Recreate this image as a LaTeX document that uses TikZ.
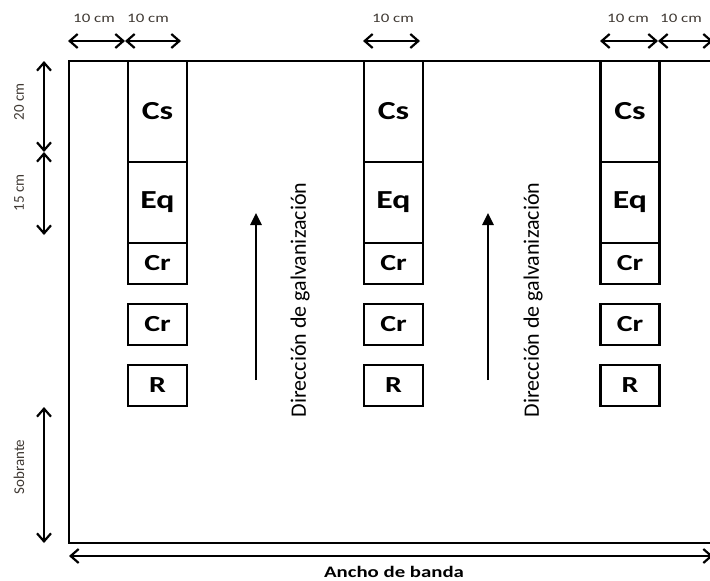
\documentclass[tikz,border=0pt]{standalone}
\usepackage{fontspec}
\setmainfont{Carlito}
\usetikzlibrary{arrows.meta}
\definecolor{dimtext}{RGB}{64,58,52}
% wide lettering for the horizontal labels
\newcommand\hstretch[1]{\scalebox{1.3}[1]{#1}}
\tikzset{
  frame/.style={line width=2.4pt},
  cell/.style={draw, line width=2.2pt, minimum width=59pt, inner sep=0pt},
  bigcell/.style={cell, font=\bfseries\fontsize{26}{26}\selectfont},
  smallcell/.style={cell, minimum height=41pt, font=\bfseries\fontsize{23}{23}\selectfont},
  dimarrow/.style={line width=2.2pt, {Straight Barb[length=8pt,width=14pt]}-{Straight Barb[length=8pt,width=14pt]}},
  dimlabel/.style={text=dimtext, font=\fontsize{13}{13}\selectfont, inner sep=0pt},
  sidelabel/.style={text=dimtext, rotate=90, font=\fontsize{15}{15}\selectfont, inner sep=0pt},
  flow/.style={line width=2.6pt, -{Triangle[length=12pt,width=11pt]}},
  flowlabel/.style={rotate=90, font=\fontsize{22}{22}\selectfont, inner sep=0pt},
}
\begin{document}
\begin{tikzpicture}[x=1pt,y=-1pt]
\useasboundingbox (0,0) rectangle (710,581);
\fill[white] (0,0) rectangle (710,581);

% strip outline (right side runs past the page)
\coordinate (tl) at (69,61);
\coordinate (tr) at (714,61);
\coordinate (bl) at (69,543);
\coordinate (br) at (714,543);
\draw[frame] (tr) -- (tl) -- (bl) -- (br);

% three sample columns
\foreach \i/\cx in {1/157.5, 2/393.5, 3/630}{
  \node[bigcell, minimum height=101pt] (cs\i) at (\cx,111.5) {\hstretch{Cs}};
  \node[bigcell, minimum height=81pt] (eq\i) at (\cx,202.5) {\hstretch{Eq}};
  \node[smallcell] (cra\i) at (\cx,263.5) {\hstretch{Cr}};
  \node[smallcell] (crb\i) at (\cx,324.5) {\hstretch{Cr}};
  \node[smallcell] (r\i) at (\cx,385.5) {\hstretch{R}};
}

% width dimensions along the top
\coordinate (d0) at (68,41);
\coordinate (d1) at (125,41);
\coordinate (d2) at (181,41);
\coordinate (d3) at (363,41);
\coordinate (d4) at (420,41);
\coordinate (d5) at (600,41);
\coordinate (d6) at (658,41);
\coordinate (d7) at (713,41);
\draw[dimarrow] (d0) -- (d1);
\draw[dimarrow] (d1) -- (d2);
\draw[dimarrow] (d3) -- (d4);
\draw[dimarrow] (d5) -- (d6);
\draw[dimarrow] (d6) -- (d7);
\node[dimlabel] (w1) at (94,18) {\hstretch{10 cm}};
\node[dimlabel] (w2) at (148,18) {\hstretch{10 cm}};
\node[dimlabel] (w3) at (393,18) {\hstretch{10 cm}};
\node[dimlabel] (w4) at (628,18) {\hstretch{10 cm}};
\node[dimlabel] (w5) at (681,18) {\hstretch{10 cm}};

% height dimensions on the left
\coordinate (v0) at (44,61);
\coordinate (v1) at (44,152);
\coordinate (v2) at (44,235);
\coordinate (v3) at (44,407);
\coordinate (v4) at (44,543);
\draw[dimarrow] (v0) -- (v1);
\draw[dimarrow] (v1) -- (v2);
\draw[dimarrow] (v3) -- (v4);
\node[sidelabel] (h1) at (19,102) {20 cm};
\node[sidelabel] (h2) at (19,193) {15 cm};
\node[sidelabel] (h3) at (19,467) {Sobrante};

% strip width
\coordinate (a0) at (69,556);
\coordinate (a1) at (713,556);
\draw[dimarrow] (a0) -- (a1);
\node[font=\bfseries\fontsize{16}{16}\selectfont, inner sep=0pt] (ancho) at (394,572) {\hstretch{Ancho de banda}};

% galvanizing direction
\coordinate (g1s) at (256,380);
\coordinate (g1e) at (256,213);
\coordinate (g2s) at (488,380);
\coordinate (g2e) at (488,213);
\draw[flow] (g1s) -- (g1e);
\draw[flow] (g2s) -- (g2e);
\node[flowlabel] (dir1) at (300,300) {Dirección de galvanización};
\node[flowlabel] (dir2) at (533,300) {Dirección de galvanización};
\end{tikzpicture}
\end{document}
